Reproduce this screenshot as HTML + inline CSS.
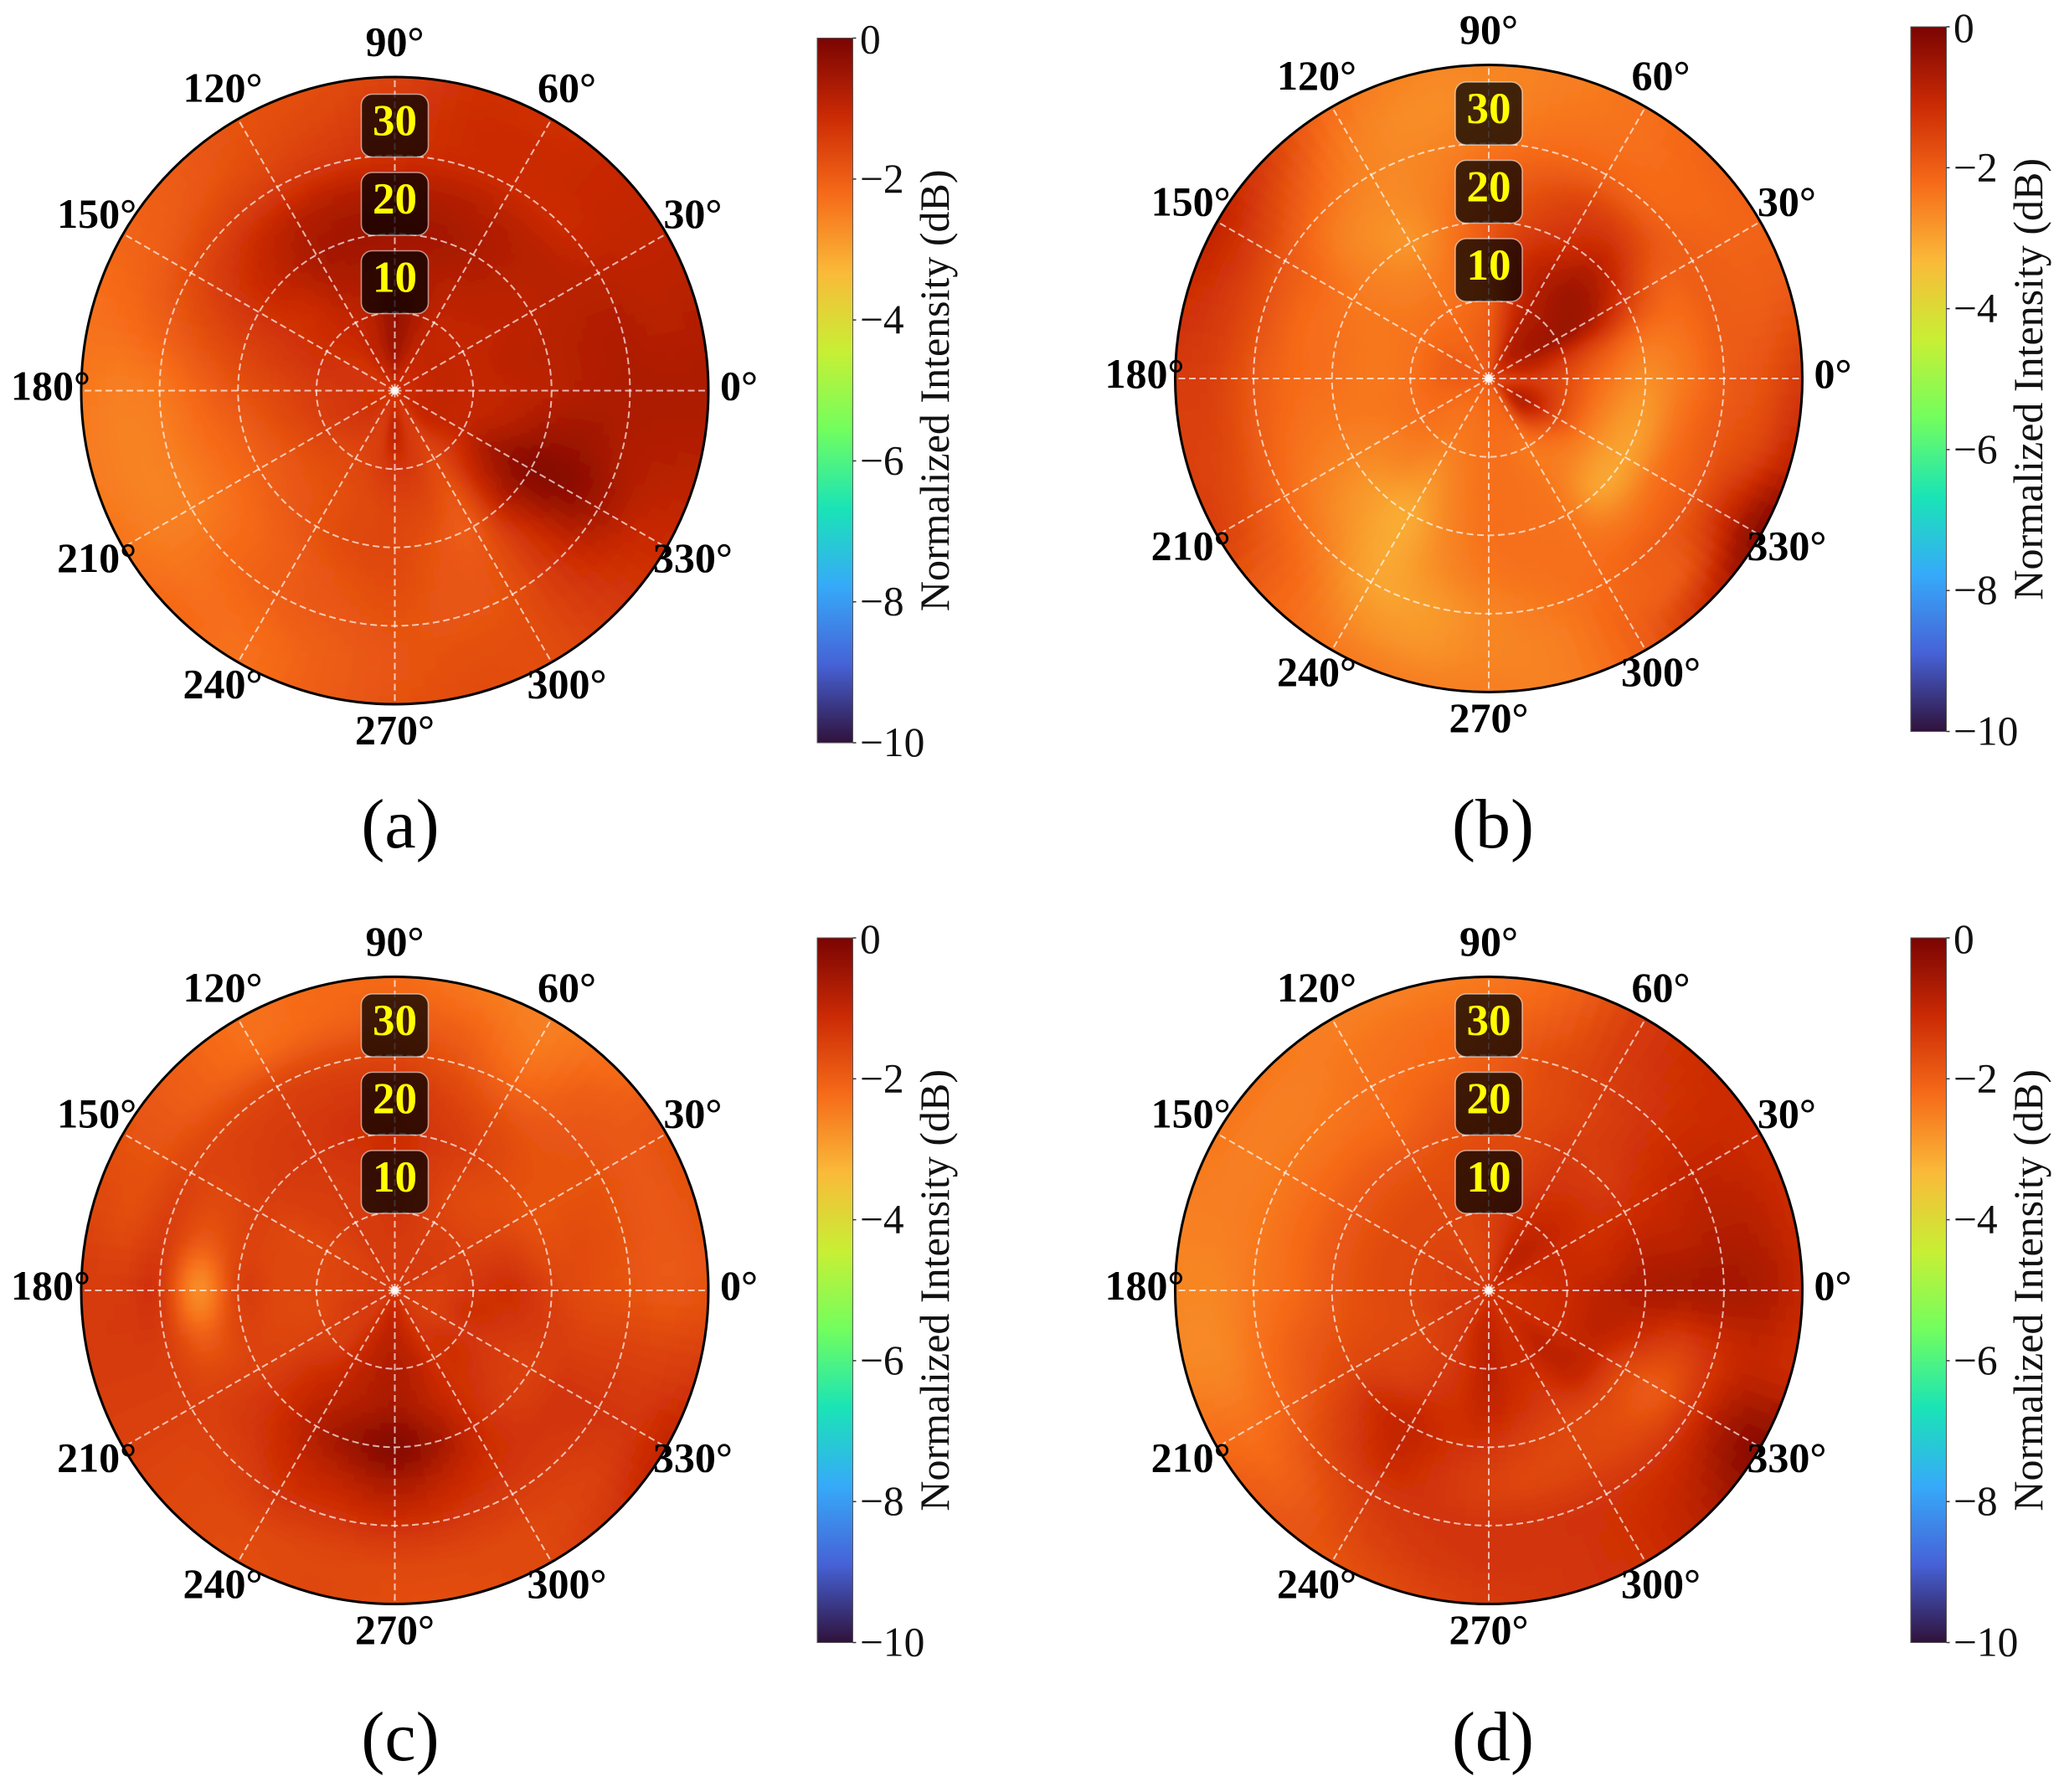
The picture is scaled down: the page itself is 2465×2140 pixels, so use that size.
<!DOCTYPE html>
<html lang="en">
<head>
<meta charset="utf-8">
<title>Normalized intensity polar maps</title>
<style>
html,body{margin:0;padding:0;background:#fff;}
svg{display:block;}
text{font-family:"Liberation Serif",serif;}
</style>
</head>
<body>
<svg id="figure" xmlns="http://www.w3.org/2000/svg" width="2465" height="2140" viewBox="0 0 2465 2140"></svg>
<script>
/* ---------- chart data ---------- */
const radiusNodes = [0,5,10,15,20,25,30,35,40];
const angleNodes = [0,15,30,45,60,75,90,105,120,135,150,165,180,195,210,225,240,255,270,285,300,315,330,345];
const ringTicks = [10,20,30,40];
const spokeAngles = [0,30,60,90,120,150,180,210,240,270,300,330];
const angleLabels = ["0°","30°","60°","90°","120°","150°","180°","210°","240°","270°","300°","330°"];
const radialLabels = ["10","20","30"];
const colorbarTicks = [0,-2,-4,-6,-8,-10];
const colorbarTickLabels = ["0","−2","−4","−6","−8","−10"];
const colorbarTitle = "Normalized Intensity (dB)";
const panelLetters = ["(a)","(b)","(c)","(d)"];
const turboStops = ["#30123B","#4662D7","#36AAF9","#1AE4B6","#72FE5E","#C8EF34","#FABA39","#F66B19","#CB2A04","#7A0403"];

/* each row is one radius node, each column one angle node (dB) */
const panelAValues = [
[-1.2,-1.2,-1.2,-1.2,-1.2,-1.2,-1.1,-1.2,-1.2,-1.2,-1.3,-1.3,-1.3,-1.3,-1.3,-1.3,-1.3,-1.3,-1.2,-1.3,-1.3,-1.2,-1.2,-1.2],
[-1.0,-1.0,-1.0,-1.0,-1.0,-0.8,-0.5,-0.8,-1.0,-1.2,-1.3,-1.3,-1.3,-1.3,-1.3,-1.3,-1.4,-1.4,-0.9,-1.3,-1.4,-1.1,-1.0,-1.0],
[-1.0,-1.0,-1.0,-1.0,-0.95,-0.7,-0.4,-0.8,-1.0,-1.1,-1.2,-1.3,-1.4,-1.45,-1.5,-1.6,-1.6,-1.5,-1.3,-1.4,-1.6,-1.3,-1.0,-1.0],
[-0.95,-0.9,-0.95,-0.9,-0.85,-0.75,-0.7,-0.7,-0.8,-1.1,-1.25,-1.4,-1.6,-1.7,-1.8,-1.8,-1.75,-1.65,-1.55,-1.6,-1.8,-1.0,-0.55,-0.85],
[-0.85,-0.85,-0.9,-0.85,-0.7,-0.6,-0.55,-0.55,-0.65,-0.95,-1.25,-1.55,-1.8,-2.0,-2.05,-1.95,-1.8,-1.65,-1.6,-1.8,-1.9,-0.85,-0.2,-0.55],
[-0.75,-0.8,-0.85,-0.85,-0.8,-0.75,-0.75,-0.75,-0.85,-1.1,-1.4,-1.75,-2.1,-2.25,-2.3,-2.15,-1.95,-1.8,-1.7,-1.85,-1.8,-1.1,-0.25,-0.5],
[-0.7,-0.75,-0.9,-1.1,-1.1,-1.1,-1.2,-1.3,-1.4,-1.5,-1.7,-2.0,-2.4,-2.5,-2.5,-2.2,-2.0,-1.9,-1.8,-1.85,-1.75,-1.2,-0.6,-0.7],
[-0.7,-0.85,-0.95,-1.05,-1.1,-1.15,-1.35,-1.55,-1.7,-1.85,-2.0,-2.2,-2.5,-2.55,-2.5,-2.3,-2.2,-2.0,-1.85,-1.75,-1.7,-1.3,-1.0,-0.8],
[-0.7,-0.8,-0.95,-1.05,-1.2,-1.2,-1.5,-1.7,-1.8,-1.95,-2.1,-2.3,-2.4,-2.45,-2.35,-2.2,-2.3,-2.0,-1.8,-1.7,-1.7,-1.4,-1.1,-0.85]
];
const panelBValues = [
[-1.7,-1.6,-1.5,-1.4,-1.5,-1.7,-1.9,-2.0,-2.0,-2.0,-2.0,-2.0,-2.0,-2.0,-2.0,-2.0,-2.1,-2.1,-2.0,-2.0,-2.0,-1.8,-1.7,-1.7],
[-1.4,-1.0,-0.8,-0.7,-0.9,-1.5,-1.9,-2.0,-2.1,-2.1,-2.0,-2.0,-2.0,-2.1,-2.2,-2.3,-2.3,-2.3,-2.2,-2.2,-2.0,-1.1,-0.8,-1.1],
[-1.7,-1.3,-0.5,-0.6,-0.8,-1.3,-2.0,-2.2,-2.3,-2.3,-2.3,-2.3,-2.3,-2.3,-2.3,-2.4,-2.5,-2.4,-2.3,-2.3,-2.4,-2.1,-1.7,-1.7],
[-2.3,-1.8,-0.7,-0.5,-0.8,-1.2,-1.9,-2.3,-2.5,-2.5,-2.4,-2.4,-2.4,-2.4,-2.5,-2.6,-2.8,-2.5,-2.3,-2.3,-2.4,-2.6,-2.6,-2.5],
[-2.7,-2.3,-1.4,-0.9,-1.2,-1.5,-1.9,-2.4,-2.8,-2.6,-2.4,-2.3,-2.3,-2.4,-2.6,-2.9,-3.1,-2.6,-2.3,-2.3,-2.4,-3.0,-3.0,-2.9],
[-2.4,-2.3,-2.0,-1.5,-1.5,-1.8,-2.1,-2.5,-2.7,-2.6,-2.2,-2.2,-2.2,-2.3,-2.5,-2.8,-3.1,-2.7,-2.4,-2.3,-2.3,-2.4,-2.3,-2.3],
[-2.0,-2.0,-2.0,-2.1,-2.1,-2.2,-2.4,-2.6,-2.6,-2.3,-1.9,-1.8,-1.9,-2.0,-2.2,-2.5,-3.0,-2.9,-2.6,-2.4,-2.2,-2.0,-1.9,-1.9],
[-1.8,-2.0,-2.1,-2.2,-2.3,-2.4,-2.6,-2.7,-2.5,-1.9,-1.4,-1.4,-1.5,-1.6,-1.8,-2.2,-2.7,-2.8,-2.6,-2.5,-2.1,-1.9,-1.1,-1.6],
[-1.4,-1.9,-2.1,-2.1,-2.3,-2.5,-2.6,-2.6,-2.3,-1.5,-1.0,-1.2,-1.4,-1.5,-1.5,-2.1,-2.4,-2.5,-2.5,-2.5,-2.0,-1.1,-0.2,-1.0]
];
const panelCValues = [
[-1.4,-1.4,-1.4,-1.4,-1.4,-1.4,-1.4,-1.4,-1.4,-1.4,-1.4,-1.4,-1.4,-1.4,-1.4,-1.4,-1.3,-1.2,-1.2,-1.2,-1.3,-1.4,-1.4,-1.4],
[-1.5,-1.5,-1.4,-1.4,-1.4,-1.4,-1.4,-1.4,-1.4,-1.5,-1.5,-1.5,-1.5,-1.4,-1.4,-1.4,-1.2,-1.0,-0.9,-1.1,-1.3,-1.4,-1.5,-1.5],
[-1.3,-1.4,-1.5,-1.5,-1.5,-1.4,-1.3,-1.4,-1.4,-1.5,-1.6,-1.6,-1.6,-1.6,-1.5,-1.4,-1.1,-0.85,-0.75,-0.9,-1.2,-1.2,-1.3,-1.2],
[-1.2,-1.4,-1.6,-1.7,-1.6,-1.4,-1.25,-1.35,-1.4,-1.45,-1.6,-1.6,-1.6,-1.6,-1.5,-1.2,-0.95,-0.75,-0.6,-0.85,-1.15,-1.3,-1.4,-1.3],
[-1.5,-1.7,-1.8,-1.7,-1.5,-1.35,-1.15,-1.25,-1.35,-1.4,-1.5,-1.55,-1.5,-1.55,-1.5,-1.2,-0.8,-0.45,-0.15,-0.55,-1.1,-1.4,-1.5,-1.4],
[-1.7,-1.7,-1.8,-1.8,-1.7,-1.5,-1.3,-1.35,-1.4,-1.45,-1.6,-1.9,-2.7,-1.95,-1.5,-1.3,-1.05,-0.9,-0.7,-0.95,-1.2,-1.3,-1.3,-1.5],
[-1.8,-1.8,-1.8,-1.9,-2.1,-1.8,-1.6,-1.6,-1.6,-1.6,-1.55,-1.45,-1.35,-1.45,-1.5,-1.5,-1.3,-1.3,-1.2,-1.3,-1.4,-1.4,-1.3,-1.5],
[-1.9,-1.9,-1.9,-2.0,-2.4,-2.1,-2.0,-2.1,-2.2,-2.0,-1.8,-1.7,-1.4,-1.4,-1.5,-1.6,-1.6,-1.6,-1.6,-1.6,-1.6,-1.5,-1.3,-1.5],
[-1.8,-1.8,-1.8,-2.2,-2.5,-2.4,-2.2,-2.2,-2.3,-2.0,-1.8,-1.6,-1.4,-1.4,-1.5,-1.6,-1.7,-1.6,-1.7,-1.7,-1.6,-1.3,-1.0,-1.4]
];
const panelDValues = [
[-1.3,-1.3,-1.2,-1.2,-1.2,-1.3,-1.4,-1.4,-1.4,-1.4,-1.4,-1.4,-1.4,-1.4,-1.4,-1.4,-1.3,-1.3,-1.2,-1.2,-1.3,-1.2,-1.3,-1.3],
[-1.2,-1.2,-1.1,-0.9,-1.0,-1.3,-1.5,-1.6,-1.6,-1.5,-1.5,-1.5,-1.5,-1.4,-1.4,-1.4,-1.3,-1.1,-1.0,-1.1,-1.2,-1.1,-1.2,-1.2],
[-1.1,-1.1,-1.1,-1.0,-1.1,-1.3,-1.5,-1.6,-1.6,-1.6,-1.6,-1.6,-1.6,-1.6,-1.6,-1.5,-1.4,-1.2,-0.9,-1.1,-1.1,-0.9,-1.1,-1.1],
[-0.9,-1.1,-1.2,-1.2,-1.3,-1.5,-1.6,-1.7,-1.7,-1.7,-1.7,-1.7,-1.7,-1.7,-1.6,-1.5,-1.3,-1.2,-1.0,-1.2,-1.3,-1.0,-1.0,-0.9],
[-0.7,-0.9,-1.2,-1.4,-1.4,-1.6,-1.7,-1.8,-1.9,-1.9,-1.9,-1.9,-1.9,-1.8,-1.6,-1.2,-1.0,-1.2,-1.3,-1.5,-1.6,-1.6,-1.6,-1.1],
[-0.65,-0.9,-1.1,-1.3,-1.5,-1.7,-1.9,-2.0,-2.2,-2.2,-2.2,-2.2,-2.2,-2.0,-1.8,-1.4,-1.1,-1.3,-1.5,-1.6,-1.6,-1.7,-1.9,-1.4],
[-0.6,-0.8,-1.0,-1.25,-1.45,-1.7,-2.0,-2.2,-2.3,-2.4,-2.4,-2.4,-2.4,-2.3,-2.1,-1.7,-1.4,-1.3,-1.3,-1.3,-1.3,-1.3,-1.3,-1.2],
[-0.7,-0.85,-1.05,-1.2,-1.4,-1.9,-2.2,-2.3,-2.4,-2.5,-2.5,-2.5,-2.6,-2.6,-2.3,-2.0,-1.6,-1.4,-1.3,-1.3,-1.2,-1.0,-0.6,-1.0],
[-1.0,-1.1,-1.15,-1.15,-1.4,-2.1,-2.4,-2.5,-2.5,-2.4,-2.4,-2.5,-2.6,-2.6,-2.2,-1.9,-1.8,-1.6,-1.4,-1.3,-1.2,-0.8,-0.2,-1.1]
];
const panelValues = [panelAValues, panelBValues, panelCValues, panelDValues];

/* ---------- layout (not data) ---------- */
const panelLayout = [
  {key:"a", cx:471.5, cy:466.5, barX:976,  barTop:45.5,  letterX:478,  letterY:1012},
  {key:"b", cx:1778,  cy:452,   barX:2282, barTop:32,    letterX:1783, letterY:1012},
  {key:"c", cx:471.5, cy:1541,  barX:976,  barTop:1120,  letterX:478,  letterY:2102},
  {key:"d", cx:1778,  cy:1541,  barX:2282, barTop:1120,  letterX:1783, letterY:2102}
];
const plotRadius = 374.5;
const barWidth = 42.5;
const barHeight = 841.5;
const rMax = 40;
const vMin = -10;
const vMax = 0;

/* ---------- helpers ---------- */
const SVGNS = "http://www.w3.org/2000/svg";
const fig = document.getElementById("figure");
function mk(tag, attrs, parent, text){
  const el = document.createElementNS(SVGNS, tag);
  for (const k in attrs) el.setAttribute(k, attrs[k]);
  if (text !== undefined) el.textContent = text;
  parent.appendChild(el);
  return el;
}
function rScale(r){ return r / rMax * plotRadius; }
function polarX(p, r, deg){ return p.cx + rScale(r) * Math.cos(deg * Math.PI / 180); }
function polarY(p, r, deg){ return p.cy - rScale(r) * Math.sin(deg * Math.PI / 180); }
function barY(p, v){ return p.barTop + (vMax - v) / (vMax - vMin) * barHeight; }
function hexRgb(h){ return [parseInt(h.slice(1,3),16),parseInt(h.slice(3,5),16),parseInt(h.slice(5,7),16)]; }
const turboRgb = turboStops.map(hexRgb);
function colorOf(v){
  let t = (v - vMin) / (vMax - vMin);
  t = Math.max(0, Math.min(1, t)) * (turboRgb.length - 1);
  const i = Math.min(turboRgb.length - 2, Math.floor(t));
  const f = t - i;
  const a = turboRgb[i], b = turboRgb[i + 1];
  return "rgb(" + Math.round(a[0]+(b[0]-a[0])*f) + "," + Math.round(a[1]+(b[1]-a[1])*f) + "," + Math.round(a[2]+(b[2]-a[2])*f) + ")";
}
function cubic(a, b, c, d, f){
  return b + 0.5 * f * (c - a + f * (2*a - 5*b + 4*c - d + f * (3*(b - c) + d - a)));
}
function sampleField(rows, r, deg){
  const rStep = radiusNodes[1] - radiusNodes[0];
  const aStep = angleNodes[1] - angleNodes[0];
  const n = angleNodes.length, m = radiusNodes.length;
  const rp = Math.min(m - 1.0001, r / rStep);
  const ri = Math.floor(rp), rf = rp - ri;
  const ap = ((deg % 360) + 360) % 360 / aStep;
  const ai = Math.floor(ap), af = ap - ai;
  const colVals = [];
  for (let q = -1; q <= 2; q++) {
    const row = rows[Math.max(0, Math.min(m - 1, ri + q))];
    colVals.push(cubic(row[(ai - 1 + n) % n], row[ai % n], row[(ai + 1) % n], row[(ai + 2) % n], af));
  }
  return cubic(colVals[0], colVals[1], colVals[2], colVals[3], rf);
}

/* ---------- shared definitions ---------- */
const defs = mk("defs", {}, fig);
const grad = mk("linearGradient", {id:"turbo-gradient", x1:"0", y1:"1", x2:"0", y2:"0"}, defs);
turboStops.forEach(function(c, i){
  mk("stop", {offset:(i / (turboStops.length - 1)), "stop-color":c}, grad);
});
const softFilter = mk("filter", {id:"heat-soften", x:"-5%", y:"-5%", width:"110%", height:"110%"}, defs);
mk("feGaussianBlur", {stdDeviation:"3.5"}, softFilter);

/* ---------- draw every panel ---------- */
panelLayout.forEach(function(p, idx){
  const rows = panelValues[idx];
  const panel = mk("g", {}, fig);
  
  

  /* heatmap */
  const clip = mk("clipPath", {id:"clip-" + p.key}, defs);
  mk("circle", {cx:p.cx, cy:p.cy, r:plotRadius}, clip);
  const clipper = mk("g", {"clip-path":"url(#clip-" + p.key + ")"}, panel);
  
  
  const heat = mk("g", {"stroke-width":"0.7", filter:"url(#heat-soften)"}, clipper);
  
  
  const dR = 1, dA = 3;
  for (let r = 0; r < rMax + 2; r += dR) {
    for (let a = 0; a < 360; a += dA) {
      const col = colorOf(sampleField(rows, r + dR / 2, a + dA / 2));
      const r0 = rScale(r), r1 = rScale(r + dR);
      const d = "M" + polarX(p, r, a).toFixed(2) + " " + polarY(p, r, a).toFixed(2) +
        "L" + polarX(p, r + dR, a).toFixed(2) + " " + polarY(p, r + dR, a).toFixed(2) +
        "A" + r1.toFixed(2) + " " + r1.toFixed(2) + " 0 0 0 " + polarX(p, r + dR, a + dA).toFixed(2) + " " + polarY(p, r + dR, a + dA).toFixed(2) +
        "L" + polarX(p, r, a + dA).toFixed(2) + " " + polarY(p, r, a + dA).toFixed(2) +
        (r0 > 0 ? "A" + r0.toFixed(2) + " " + r0.toFixed(2) + " 0 0 1 " + polarX(p, r, a).toFixed(2) + " " + polarY(p, r, a).toFixed(2) : "") + "Z";
      const cell = mk("path", {d:d, fill:col, stroke:col}, heat);
      
      
    }
  }

  /* grid */
  const grid = mk("g", {fill:"none", stroke:"#ffffff", "stroke-opacity":"0.68", "stroke-width":"2", "stroke-dasharray":"8 4.5"}, panel);
  
  
  ringTicks.forEach(function(t){
    if (t >= rMax) return;
    const ring = mk("circle", {cx:p.cx, cy:p.cy, r:rScale(t)}, grid);
    
    
  });
  spokeAngles.forEach(function(a){
    const spoke = mk("line", {x1:p.cx, y1:p.cy, x2:polarX(p, rMax, a), y2:polarY(p, rMax, a)}, grid);
    
    
  });
  const hub = mk("circle", {cx:p.cx, cy:p.cy, r:5, fill:"#ffffff", "fill-opacity":"0.7"}, panel);
  
  

  /* outer frame */
  const frame = mk("circle", {cx:p.cx, cy:p.cy, r:plotRadius, fill:"none", stroke:"#000000", "stroke-width":"3"}, panel);
  
  

  /* radial badges */
  radialLabels.forEach(function(label, i){
    const top = p.cy - 167 - i * 93.5;
    const badge = mk("g", {}, panel);
    
    
    mk("rect", {x:p.cx - 40, y:top, width:80, height:75, rx:13, ry:13, fill:"#000000", "fill-opacity":"0.74", stroke:"#ffffff", "stroke-opacity":"0.55", "stroke-width":"1.6"}, badge);
    mk("text", {x:p.cx, y:top + 49, "text-anchor":"middle", "font-size":"53", "font-weight":"bold", fill:"#ffff00"}, badge, label);
  });

  /* angle labels */
  spokeAngles.forEach(function(a, i){
    const rad = a * Math.PI / 180;
    const lx = p.cx + 411 * Math.cos(rad);
    const ly = p.cy - 4 - 411 * Math.sin(rad) + 15;
    const t = mk("text", {x:lx, y:ly, "text-anchor":"middle", "font-size":"50", "font-weight":"bold", fill:"#000000"}, panel, angleLabels[i]);
    
    
  });

  /* colourbar */
  const bar = mk("g", {}, panel);
  
  
  mk("rect", {x:p.barX, y:p.barTop, width:barWidth, height:barHeight, fill:"url(#turbo-gradient)", stroke:"#555555", "stroke-width":"1"}, bar);
  colorbarTicks.forEach(function(v, i){
    const y = barY(p, v);
    const tick = mk("line", {x1:p.barX + barWidth, x2:p.barX + barWidth + 4, y1:y, y2:y, stroke:"#333333", "stroke-width":"1.5"}, bar);
    
    
    const yText = y + 16 + (i === 0 ? 2 : 0);
    const lab = mk("text", {x:p.barX + 51, y:yText, "font-size":"49.5", fill:"#111111"}, bar, colorbarTickLabels[i]);
    
    
  });
  const bx = p.barX + 157;
  const by = p.barTop + barHeight / 2;
  const title = mk("text", {x:bx, y:by, transform:"rotate(-90 " + bx + " " + by + ")", "text-anchor":"middle", "font-size":"50", fill:"#111111"}, bar, colorbarTitle);
  
  

  /* panel letter */
  const letter = mk("text", {x:p.letterX, y:p.letterY, "text-anchor":"middle", "font-size":"84", fill:"#000000"}, panel, panelLetters[idx]);
  
  
});
</script>
</body>
</html>
